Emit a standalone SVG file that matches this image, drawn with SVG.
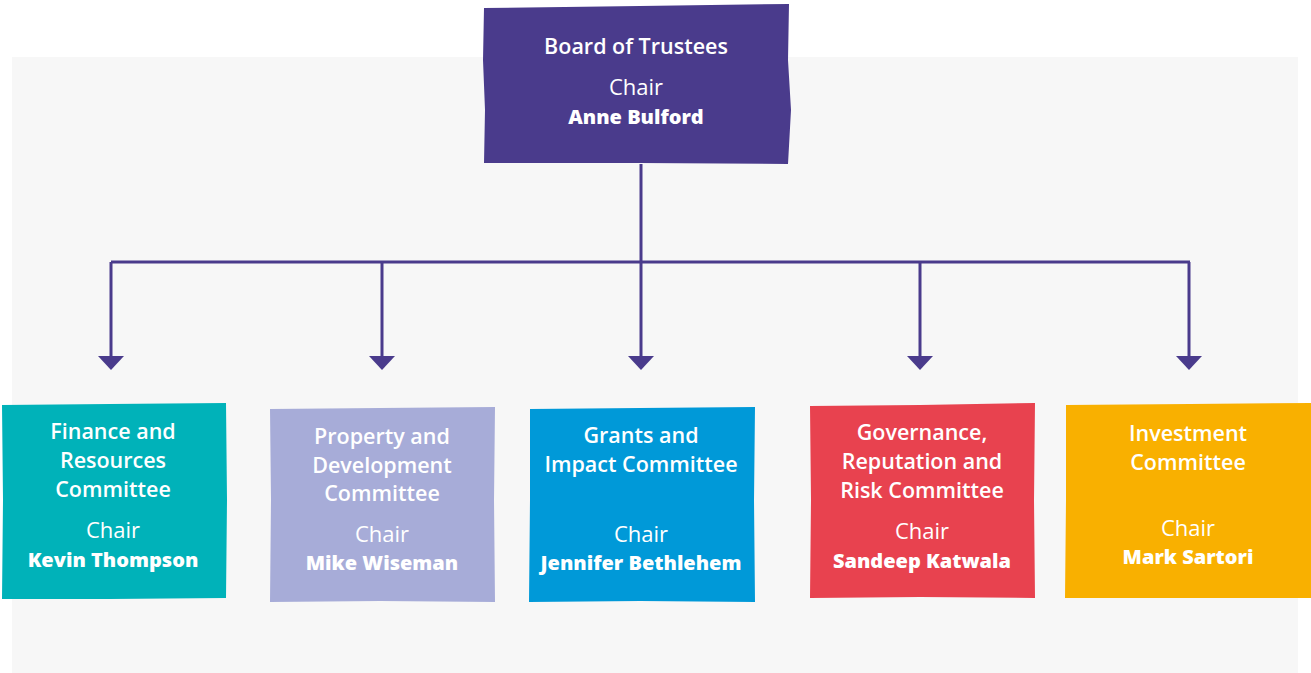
<svg xmlns="http://www.w3.org/2000/svg" width="1311" height="673" viewBox="0 0 1311 673">
<defs>
<style>
.t{font-family:"Open Sans","Liberation Sans",sans-serif;font-size:20px;fill:#fff;text-anchor:middle}
.h{font-weight:600;font-size:21.5px}
.c{font-weight:400;font-size:22px}
.n{font-weight:800}
.ln{stroke:#4a3b8c;stroke-width:3;fill:none}
</style>
<marker id="ah" viewBox="0 0 14 26" refX="1" refY="13" markerWidth="14" markerHeight="26" markerUnits="userSpaceOnUse" orient="auto">
<path d="M0,0 L14,13 L0,26 Z" fill="#4a3b8c"/>
</marker>
</defs>
<rect x="12" y="57" width="1286" height="616" fill="#f7f7f7"/>
<g id="connectors">
<path class="ln" d="M641,164 V262"/>
<path class="ln" d="M111,262 H1190"/>
<path class="ln" d="M111,262 V357" marker-end="url(#ah)"/>
<path class="ln" d="M382,262 V357" marker-end="url(#ah)"/>
<path class="ln" d="M641,262 V357" marker-end="url(#ah)"/>
<path class="ln" d="M920,262 V357" marker-end="url(#ah)"/>
<path class="ln" d="M1189,262 V357" marker-end="url(#ah)"/>
</g>
<g id="board">
<path d="M484,8 L640,6 L789,4 L788,60 L791,110 L788,164 L640,163 L484,163 L485,110 L483,60 Z" fill="#4a3b8c"/>
<text class="t h" x="636" y="54">Board of Trustees</text>
<text class="t c" x="636" y="95">Chair</text>
<text class="t n" x="636" y="124">Anne Bulford</text>
</g>
<g id="finance">
<path d="M2,405 L110,404 L226,403 L227,500 L226,598 L110,599 L2,599 L3,500 Z" fill="#00b2b9"/>
<text class="t h" x="113" y="439">Finance and</text>
<text class="t h" x="113" y="468">Resources</text>
<text class="t h" x="113" y="497">Committee</text>
<text class="t c" x="113" y="538">Chair</text>
<text class="t n" x="113" y="567">Kevin Thompson</text>
</g>
<g id="property">
<path d="M270,409 L380,408 L495,407 L494,500 L495,602 L380,601 L270,602 L271,500 Z" fill="#a7acd8"/>
<text class="t h" x="382" y="444">Property and</text>
<text class="t h" x="382" y="473">Development</text>
<text class="t h" x="382" y="501">Committee</text>
<text class="t c" x="382" y="542">Chair</text>
<text class="t n" x="382" y="570">Mike Wiseman</text>
</g>
<g id="grants">
<path d="M530,409 L640,408 L755,407 L754,500 L755,602 L640,601 L529,602 L530,500 Z" fill="#0099d8"/>
<text class="t h" x="641" y="443">Grants and</text>
<text class="t h" x="641" y="472">Impact Committee</text>
<text class="t c" x="641" y="542">Chair</text>
<text class="t n" x="641" y="570">Jennifer Bethlehem</text>
</g>
<g id="governance">
<path d="M810,406 L920,405 L1035,403 L1034,500 L1035,598 L920,597 L810,598 L811,500 Z" fill="#e8424f"/>
<text class="t h" x="922" y="440">Governance,</text>
<text class="t h" x="922" y="469">Reputation and</text>
<text class="t h" x="922" y="498">Risk Committee</text>
<text class="t c" x="922" y="539">Chair</text>
<text class="t n" x="922" y="568">Sandeep Katwala</text>
</g>
<g id="investment">
<path d="M1066,405 L1190,404 L1311,403 L1311,598 L1190,598 L1065,598 L1066,500 Z" fill="#f9b000"/>
<text class="t h" x="1188" y="441">Investment</text>
<text class="t h" x="1188" y="470">Committee</text>
<text class="t c" x="1188" y="536">Chair</text>
<text class="t n" x="1188" y="564">Mark Sartori</text>
</g>
</svg>
